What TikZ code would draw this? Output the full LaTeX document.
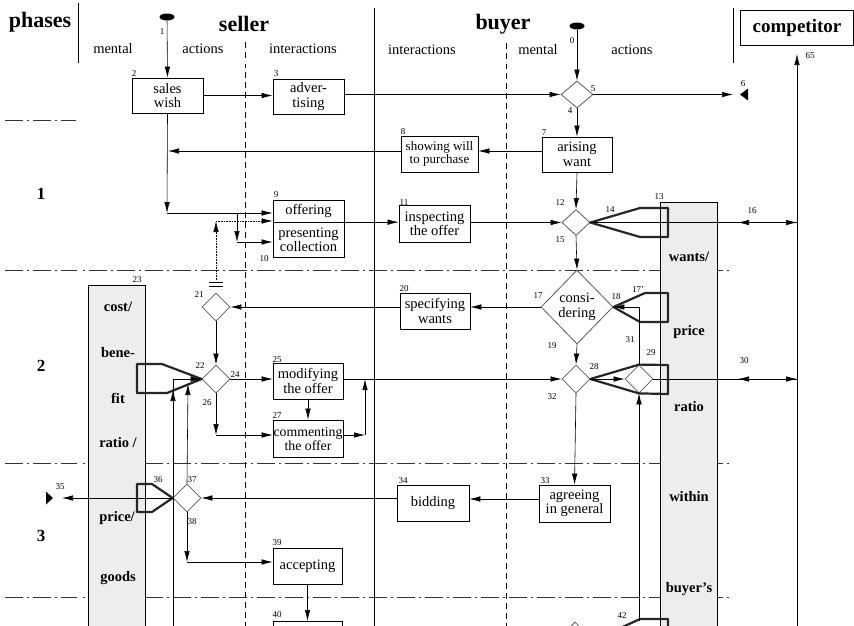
\documentclass[tikz,border=0pt]{standalone}
\usepackage{fontspec}
\setmainfont{Liberation Serif}
\usetikzlibrary{arrows.meta,shapes.geometric}
\begin{document}
\begin{tikzpicture}[x=1pt,y=-1pt,
  >={Latex[length=11pt,width=5.5pt]},
  line width=0.6pt,
  box/.style={draw, line width=0.7pt, inner sep=0pt, align=center, font=\fontsize{14.5}{14.5}\selectfont},
  dia/.style={draw=black!65, diamond, inner sep=0pt, minimum width=28pt, minimum height=28pt, line width=0.8pt},
  num/.style={font=\fontsize{9}{9}\selectfont, inner sep=0pt},
  head/.style={font=\bfseries\fontsize{22}{22}\selectfont, inner sep=0pt},
  sub/.style={font=\fontsize{14.5}{14.5}\selectfont, inner sep=0pt},
  gtext/.style={font=\bfseries\fontsize{14.5}{14.5}\selectfont, inner sep=0pt},
  phase/.style={font=\bfseries\fontsize{17}{17}\selectfont, inner sep=0pt},
  bracket/.style={line width=2.2pt, line join=round, draw=black!85},
  ddline/.style={double, double distance=1.2pt, line width=0.7pt},
  dashdot/.style={dash pattern=on 18pt off 4pt on 2pt off 4pt, line width=0.6pt, draw=black!80},
  dashv/.style={dash pattern=on 6pt off 4pt, line width=0.7pt},
  grey/.style={draw, fill=black!7, line width=0.6pt, inner sep=0pt, anchor=north west},
]
\useasboundingbox (0,0) rectangle (854,625);
\fill[white] (0,0) rectangle (854,625);

% ---------- frame lines ----------
\draw[dashdot] (5,120) -- (76,120);
\draw[dashdot] (5,270) -- (731,270);
\draw[dashdot] (5,463) -- (731,463);
\draw[dashdot] (5,597) -- (731,597);
\draw[dashv] (245,42) -- (245,630);
\draw[dashv] (506,43) -- (506,630);

\draw[ddline] (76,63) -- (156,63);
\draw[ddline] (180,63) -- (565,63);
\draw[ddline] (596,63) -- (733,63);
\draw[ddline] (76,120) -- (156,120);
\draw[ddline] (180,120) -- (565,120);
\draw[ddline] (596,120) -- (733,120);

\draw[line width=0.9pt] (78,3) -- (78,63);
\draw[ddline] (78,63) -- (78,630);
\draw[line width=0.9pt] (374,8) -- (374,630);
\draw[line width=0.9pt] (733,8) -- (733,63);
\draw[ddline] (733,63) -- (733,630);

% ---------- grey boxes ----------
\node[grey, minimum width=57pt, minimum height=440pt] (g13) at (660,202) {};
\node[grey, minimum width=57pt, minimum height=360pt] (g23) at (88,285) {};
\node[gtext] (t13a) at (689,257) {wants/};
\node[gtext] (t13b) at (689,332) {price};
\node[gtext] (t13c) at (689,407) {ratio};
\node[gtext] (t13d) at (689,497) {within};
\node[gtext] (t13e) at (689,589) {buyer's};
\node[gtext] (t23a) at (118,307) {cost/};
\node[gtext] (t23b) at (118,353) {bene-};
\node[gtext] (t23c) at (118,398) {fit};
\node[gtext] (t23d) at (118,443) {ratio /};
\node[gtext] (t23e) at (117,518) {price/};
\node[gtext] (t23f) at (118,578) {goods};

% ---------- headers ----------
\node[head] (hph) at (40,22) {phases};
\node[head] (hse) at (244,24) {seller};
\node[head] (hbu) at (503,24) {buyer};
\node[draw, line width=0.6pt, minimum width=113pt, minimum height=35pt, inner sep=0pt,
      font=\bfseries\fontsize{19}{19}\selectfont] (comp) at (797,27.5) {competitor};
\node[sub] (s1) at (113,49) {mental};
\node[sub] (s2) at (203,49) {actions};
\node[sub] (s3) at (303,49) {interactions};
\node[sub] (s4) at (422,50) {interactions};
\node[sub] (s5) at (538,50) {mental};
\node[sub] (s6) at (632,50) {actions};
\node[phase] (p1) at (41,194) {1};
\node[phase] (p2) at (41,366) {2};
\node[phase] (p3) at (41,536) {3};

% ---------- competitor lifeline ----------
\coordinate (c65) at (797,630);
\draw[->] (c65) -- (comp.south |- 0,54);

% ---------- nodes ----------
\node[fill=black, ellipse, minimum width=15pt, minimum height=7pt, inner sep=0pt] (st1) at (167,17) {};
\node[fill=black, ellipse, minimum width=15pt, minimum height=7pt, inner sep=0pt] (st0) at (577,26) {};

\node[box, minimum width=71pt, minimum height=35pt] (n2) at (167.5,95.5) {sales\\wish};
\node[box, minimum width=71pt, minimum height=35pt] (n3) at (308.5,96.5) {adver-\\tising};
\node[dia, minimum width=32pt, minimum height=27pt] (d5) at (577,94.5) {};
\node[box, minimum width=70pt, minimum height=35pt] (n7) at (577,154.5) {arising\\want};
\node[box, minimum width=77pt, minimum height=36pt, font=\fontsize{13}{13}\selectfont] (n8) at (439.5,154) {showing will\\to purchase};
\node[box, minimum width=71pt, minimum height=22.5pt] (n9) at (308.5,211.25) {offering};
\node[box, minimum width=71pt, minimum height=34.5pt] (n10) at (308.5,239.75) {presenting\\collection};
\node[box, minimum width=71pt, minimum height=37pt] (n11) at (434.5,224) {inspecting\\the offer};
\node[dia, minimum width=28pt, minimum height=26pt] (d12) at (576,222.5) {};
\node[dia, minimum width=72pt, minimum height=74pt] (d17) at (577,307) {};
\node[sub, align=center] (t17) at (577,307) {consi-\\dering};
\node[box, minimum width=70pt, minimum height=36pt] (n20) at (435,311) {specifying\\wants};
\node[dia] (d21) at (216,307) {};
\node[dia] (d22) at (216,379) {};
\node[box, minimum width=70pt, minimum height=36pt] (n25) at (308,381) {modifying\\the offer};
\node[box, minimum width=70pt, minimum height=37pt, font=\fontsize{13.8}{14}\selectfont] (n27) at (308,438.5) {commenting\\the offer};
\node[dia] (d28) at (576,379) {};
\node[dia] (d29) at (639,379) {};
\node[box, minimum width=71pt, minimum height=37pt] (n33) at (574.5,503.5) {agreeing\\in general};
\node[box, minimum width=72pt, minimum height=36pt] (n34) at (433,503) {bidding};
\node[dia] (d37) at (187,498) {};
\node[box, minimum width=69pt, minimum height=36pt] (n39) at (307.5,566) {accepting};
\node[box, minimum width=69pt, minimum height=36pt, anchor=north] (n40) at (307.5,621) {};
\node[dia] (dbot) at (575,636) {};

% ---------- coordinates ----------
\coordinate (c1) at (167,213);
\coordinate (c8) at (168,151);
\coordinate (cb) at (237,213);
\coordinate (cb2) at (237,242);
\coordinate (cdot1) at (216,280);
\coordinate (cdot2) at (216,221);
\coordinate (c26) at (216,435);
\coordinate (c27) at (365,435);
\coordinate (c27u) at (365,379);
\coordinate (c38) at (187,562);
\coordinate (c6) at (733,94.5);
\coordinate (c35) at (62,498);
\coordinate (c16) at (797,222.5);
\coordinate (c16b) at (738,222.5);
\coordinate (c30) at (797,379);
\coordinate (c30b) at (738,379);
\coordinate (c31) at (639,307);
\coordinate (cL1) at (173,630);
\coordinate (cL1t) at (173,379);
\coordinate (cL2) at (188,384);
\coordinate (c42) at (639,621);

% ---------- brackets ----------
\draw[bracket] (d12.east) -- (640,208) -- (668,208) -- (668,237) -- (640,237) -- cycle;
\draw[bracket] (d17.east) -- (645,293) -- (668,293) -- (668,322) -- (640,322) -- cycle;
\draw[bracket] (d28.east) -- (d29.north) -- (668,365) -- (668,394) -- (d29.south) -- cycle;
\draw[bracket] (d22.west) -- (162,364) -- (137,364) -- (137,393) -- (167,393) -- cycle;
\draw[bracket] (d37.west) -- (152,484) -- (137,484) -- (137,512) -- (152,512) -- cycle;
\draw[bracket] (605,635) -- (640,619) -- (668,619) -- (668,640);

% ---------- connectors ----------
\draw[->] (st1) -- (n2.north);
\draw[->] (st0) -- (d5.north);
\draw[->] (n2.east) -- (n3.west |- n2.east);
\draw[->] (n3.east |- d5.west) -- (d5.west);
\draw[->] (d5.east) -- (c6);
\fill (740,94.5) -- (748,88.5) -- (748,100.5) -- cycle;
\draw[->] (d5.south) -- (n7.north);
\draw[->] (n7.west |- 0,151) -- (n8.east |- 0,151);
\draw[->] (n8.west |- 0,151) -- (c8);
\draw[->] (n2.south) -- (c1);
\draw[->] (c1) -- (n9.west |- c1);
\draw[->] (cb) -- (cb2);
\draw[->] (cb2) -- (n10.west |- cb2);
\draw[->, densely dotted] (cdot1) -- (cdot2);
\draw[->, densely dotted] (cdot2) -- (n9.west |- cdot2);
\draw (209,282) -- (223,282);
\draw (209,286) -- (223,286);
\draw[->] (n10.north east) -- (n11.west |- n10.north east);
\draw[->] (n11.east |- d12.west) -- (d12.west);
\draw[->] (n7.south) -- (d12.north);
\draw[->] (d12.south) -- (d17.north);
\draw[->] (d12.east) -- (c16);
\draw[->] (c16) -- (c16b);
\draw[->] (d17.west) -- (d17.west -| n20.east);
\draw[->] (n20.west |- d21.east) -- (d21.east);
\draw[->] (d21.south) -- (d22.north);
\draw[->] (d22.east) -- (d22.east -| n25.west);
\draw[->] (d22.south) -- (c26);
\draw[->] (c26) -- (n27.west |- c26);
\draw[->] (n25.south) -- (n27.north);
\draw[->] (n27.east |- c27) -- (c27);
\draw[->] (c27) -- (c27u);
\draw[->] (n25.east |- d28.west) -- (d28.west);
\draw[->] (d17.south) -- (d28.north);
\draw[->] (d28.east) -- (d29.west);
\draw[->] (d29.east) -- (c30);
\draw[->] (c30) -- (c30b);
\draw[->] (d29.north) -- (c31) -- (d17.east);
\draw[->] (c42) -- (d29.south);
\draw[->] (d28.south) -- (n33.north);
\draw[->] (n33.west |- 0,499) -- (n34.east |- 0,499);
\draw[->] (n34.west |- d37.east) -- (d37.east);
\draw[->] (d37.west) -- (c35);
\fill (53,498) -- (46,491.5) -- (46,504.5) -- cycle;
\draw[->] (d37.south) -- (c38);
\draw[->] (c38) -- (n39.west |- c38);
\draw[->] (n39.south) -- (n40.north);
\draw[->] (d37.north) -- (cL2);
\draw (cL1) -- (173,390);
\draw[->] (173,400) -- (173,390);
\draw[->] (173,390) -- (cL1t) -- (d22.west);

% ---------- number labels ----------
\node[num] (l1) at (162,32) {1};
\node[num] (l0) at (572,41) {0};
\node[num] (l2) at (134,74) {2};
\node[num] (l3) at (276,74) {3};
\node[num] (l4) at (570,111) {4};
\node[num] (l5) at (593,89) {5};
\node[num] (l6) at (743,84) {6};
\node[num] (l7) at (544,133) {7};
\node[num] (l8) at (403,132) {8};
\node[num] (l9) at (276,195) {9};
\node[num] (l10) at (264,259) {10};
\node[num] (l11) at (404,203) {11};
\node[num] (l12) at (560,203) {12};
\node[num] (l13) at (659,197) {13};
\node[num] (l14) at (610,210) {14};
\node[num] (l15) at (560,240) {15};
\node[num] (l16) at (752,211) {16};
\node[num] (l17) at (538,296) {17};
\node[num] (l17b) at (638,289) {17'};
\node[num] (l18) at (616,297) {18};
\node[num] (l19) at (552,346) {19};
\node[num] (l20) at (404,289) {20};
\node[num] (l21) at (199,295) {21};
\node[num] (l22) at (200,366) {22};
\node[num] (l23) at (137,280) {23};
\node[num] (l24) at (235,375) {24};
\node[num] (l25) at (277,360) {25};
\node[num] (l26) at (207,403) {26};
\node[num] (l27) at (277,416) {27};
\node[num] (l28) at (594,367) {28};
\node[num] (l29) at (651,353) {29};
\node[num] (l30) at (744,361) {30};
\node[num] (l31) at (630,340) {31};
\node[num] (l32) at (552,397) {32};
\node[num] (l33) at (545,481) {33};
\node[num] (l34) at (403,481) {34};
\node[num] (l35) at (60,487) {35};
\node[num] (l36) at (158,480) {36};
\node[num] (l37) at (192,480) {37};
\node[num] (l38) at (192,522) {38};
\node[num] (l39) at (277,543) {39};
\node[num] (l40) at (277,615) {40};
\node[num] (l42) at (622,616) {42};
\node[num] (l65) at (810,56) {65};
\end{tikzpicture}
\end{document}
